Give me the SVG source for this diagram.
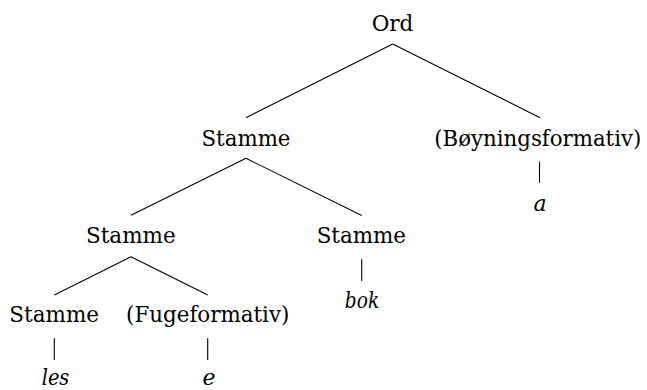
<svg xmlns="http://www.w3.org/2000/svg" width="647" height="390" viewBox="0 0 647 390">
  <style>
    text { font-family: "DejaVu Serif", serif; font-size: 23px; fill: #000; text-anchor: middle; }
    .lex { font-style: italic; font-size: 22px; }
    .wide { font-size: 21.5px; }
    .edge { stroke: #000; stroke-width: 1.1; fill: none; }
  </style>
  <rect width="647" height="390" fill="#fff"/>
  <g id="connectors">
    <line class="edge" x1="392.7" y1="44" x2="246" y2="117.7"/>
    <line class="edge" x1="392.7" y1="44" x2="540" y2="117.7"/>
    <line class="edge" x1="539.5" y1="161.7" x2="539.5" y2="182.7"/>
    <line class="edge" x1="246" y1="158.3" x2="131" y2="215.3"/>
    <line class="edge" x1="246" y1="158.3" x2="361.7" y2="215.5"/>
    <line class="edge" x1="361.7" y1="259.3" x2="361.7" y2="281"/>
    <line class="edge" x1="131" y1="256.7" x2="54.3" y2="295"/>
    <line class="edge" x1="131" y1="256.7" x2="207.7" y2="295"/>
    <line class="edge" x1="54.3" y1="338.3" x2="54.3" y2="360"/>
    <line class="edge" x1="207.7" y1="338.3" x2="207.7" y2="360"/>
  </g>
  <g id="ord"><text x="392.5" y="31" textLength="41.7" lengthAdjust="spacingAndGlyphs">Ord</text></g>
  <g id="stamme-1"><text x="246" y="145.7" textLength="89" lengthAdjust="spacingAndGlyphs">Stamme</text></g>
  <g id="boyningsformativ"><text class="wide" x="537.8" y="145.7" textLength="207" lengthAdjust="spacingAndGlyphs">(Bøyningsformativ)</text></g>
  <g id="a"><text class="lex" x="540" y="210.7">a</text></g>
  <g id="stamme-2"><text x="130.8" y="243.3" textLength="89.7" lengthAdjust="spacingAndGlyphs">Stamme</text></g>
  <g id="stamme-3"><text x="361.3" y="243.3" textLength="89.3" lengthAdjust="spacingAndGlyphs">Stamme</text></g>
  <g id="bok"><text class="lex" x="362" y="308.3" textLength="34.3" lengthAdjust="spacingAndGlyphs">bok</text></g>
  <g id="stamme-4"><text x="54.2" y="321.7" textLength="89.7" lengthAdjust="spacingAndGlyphs">Stamme</text></g>
  <g id="fugeformativ"><text x="207.7" y="321.7" textLength="163.3" lengthAdjust="spacingAndGlyphs">(Fugeformativ)</text></g>
  <g id="les"><text class="lex" x="55.5" y="385" textLength="27.6" lengthAdjust="spacingAndGlyphs">les</text></g>
  <g id="e"><text class="lex" x="209" y="385">e</text></g>
</svg>
